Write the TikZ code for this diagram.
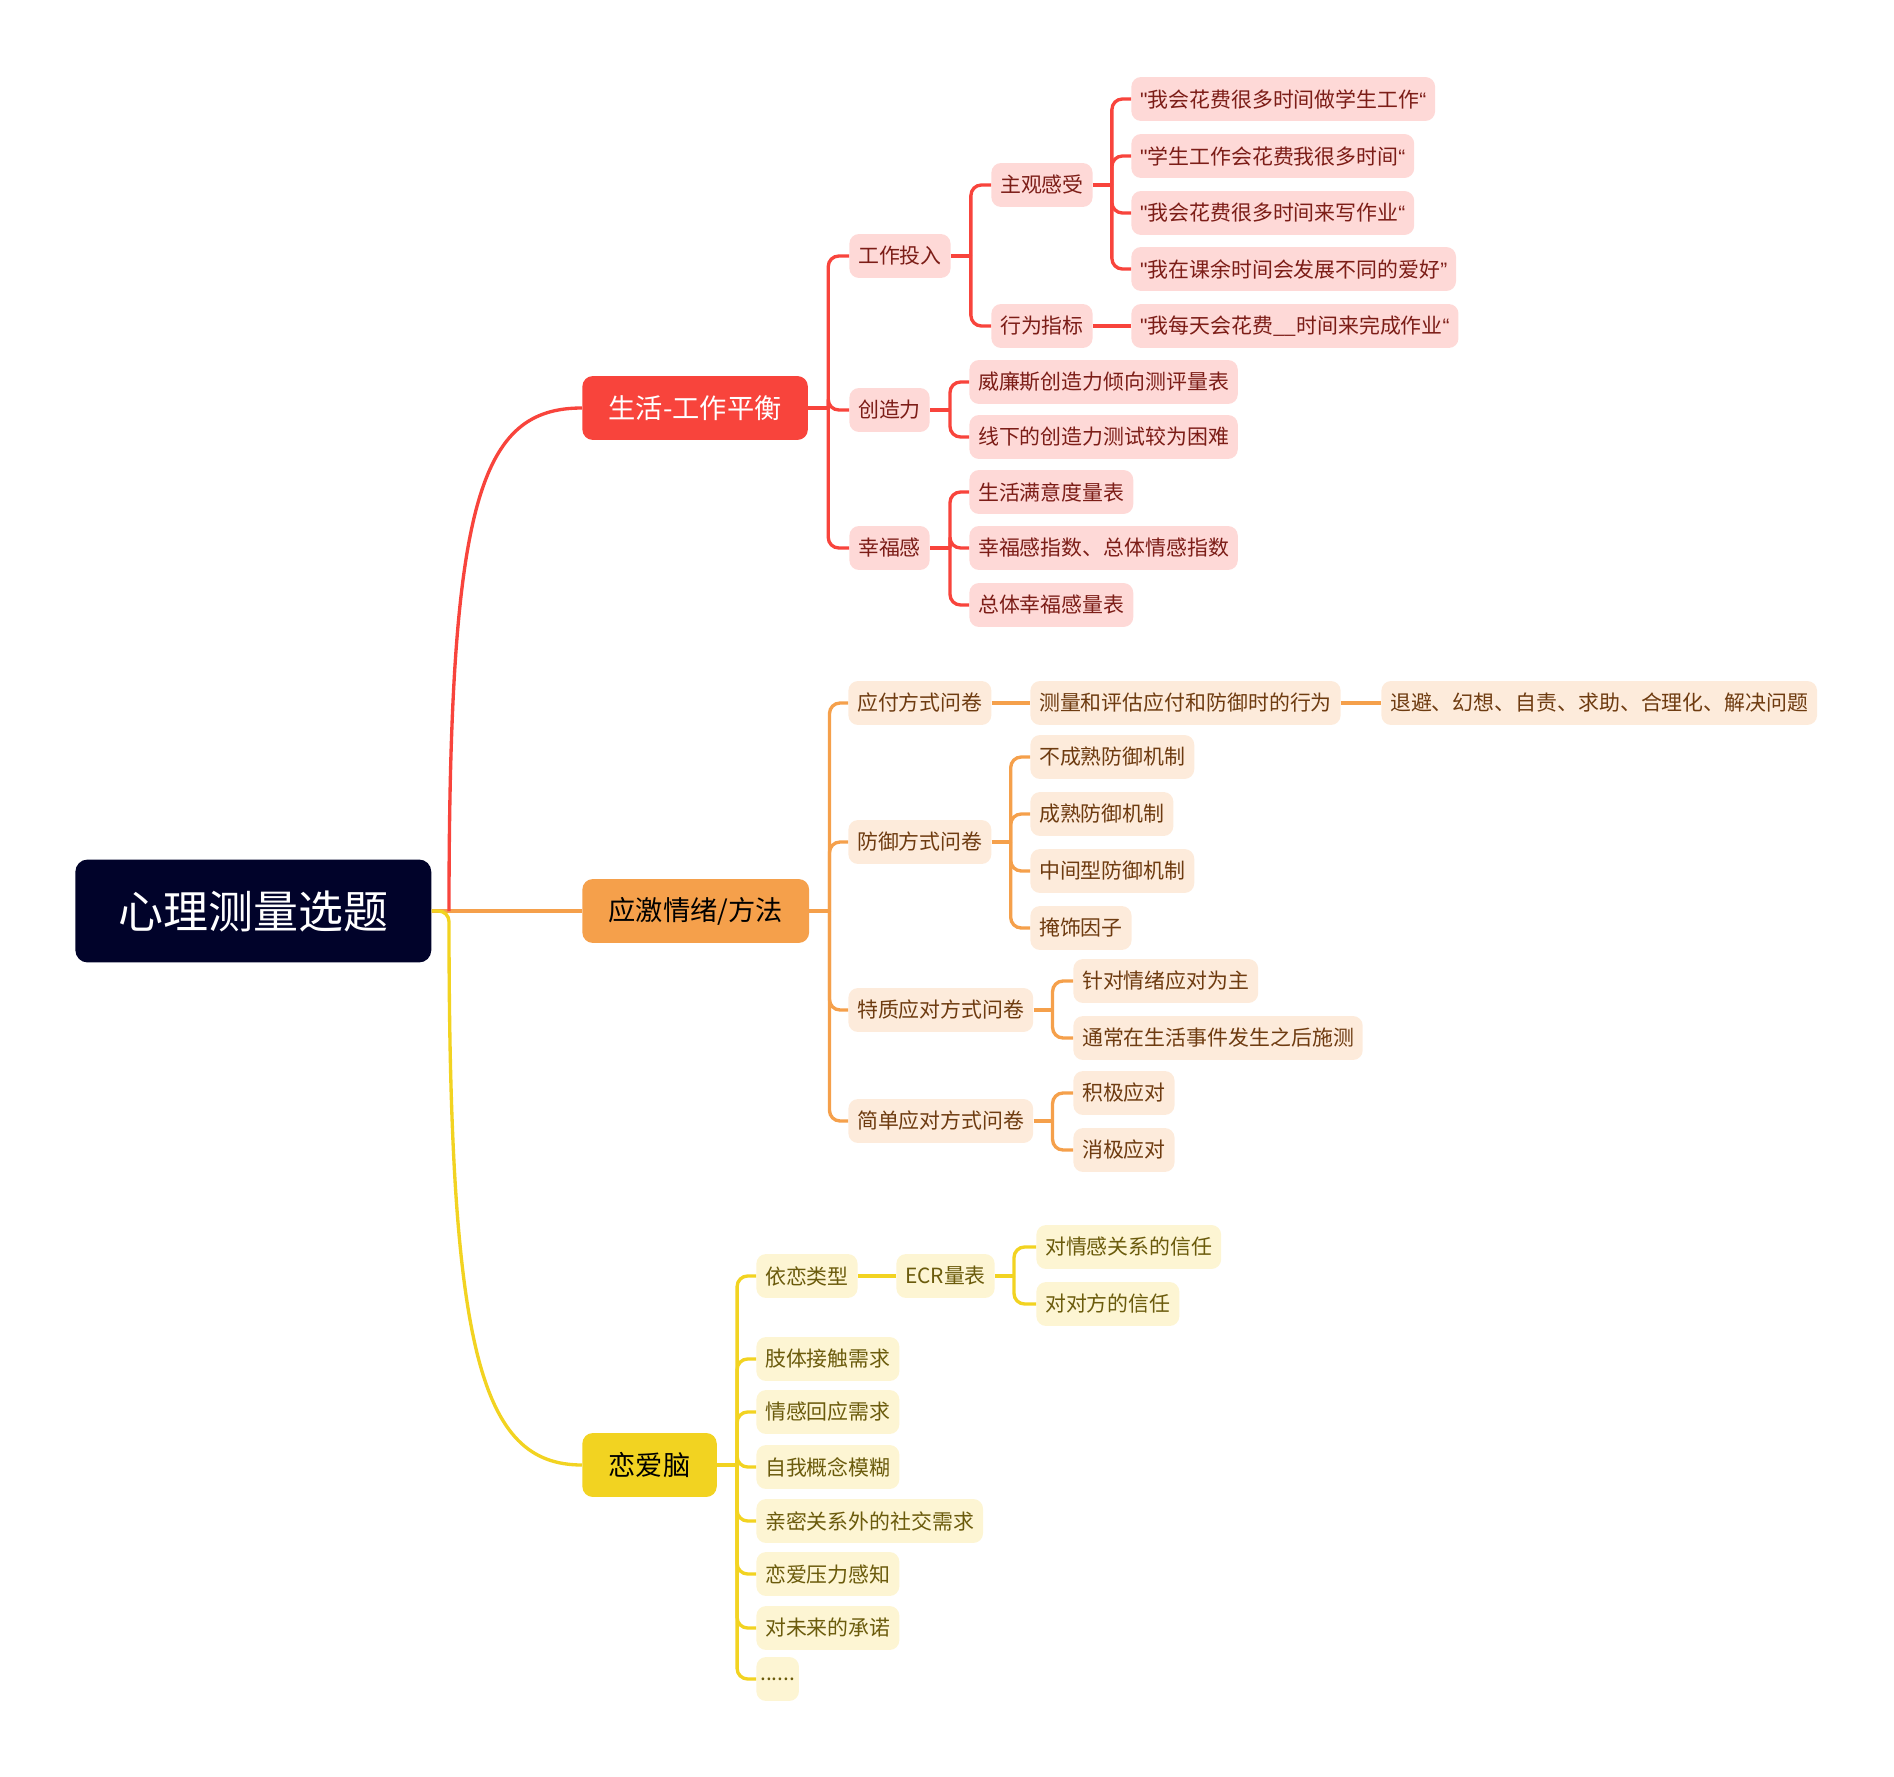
\documentclass[tikz,border=0pt]{standalone}
\usepackage{fontspec}
\setmainfont{Noto Sans CJK SC}
\newfontfamily\qfont{Liberation Sans}
\newcommand{\oq}{{\qfont\symbol{"22}}}
\newcommand{\cq}{{\qfont “}}
\newcommand{\cqr}{{\qfont ”}}

\definecolor{rootfill}{HTML}{01032A}
\definecolor{redline}{HTML}{F8443C}
\definecolor{redleaf}{HTML}{FED9D7}
\definecolor{redtext}{HTML}{7C1D17}
\definecolor{orangeline}{HTML}{F5A04B}
\definecolor{orangeleaf}{HTML}{FDEBDB}
\definecolor{orangetext}{HTML}{6E3B10}
\definecolor{yellowline}{HTML}{F2D321}
\definecolor{yellowleaf}{HTML}{FDF5D3}
\definecolor{yellowtext}{HTML}{6B5B0C}

\tikzset{
    leafbox/.style={anchor=west, rounded corners=5.5pt, minimum height=25pt,
        inner xsep=5pt, inner ysep=0pt, font=\fontsize{11.9}{14}\selectfont},
    leafr/.style={leafbox, fill=redleaf, text=redtext},
    leafo/.style={leafbox, fill=orangeleaf, text=orangetext},
    leafy/.style={leafbox, fill=yellowleaf, text=yellowtext},
    topic/.style={anchor=west, rounded corners=6pt, minimum height=36.4pt,
        inner xsep=15pt, inner ysep=0pt, font=\fontsize{15.5}{18}\selectfont},
    rootbox/.style={anchor=west, rounded corners=7pt, minimum width=202.6pt,
        minimum height=58.6pt, fill=rootfill, text=white,
        font=\fontsize{25.6}{30}\selectfont},
    linkr/.style={draw=redline, line width=1.9pt, rounded corners=6pt},
    linko/.style={draw=orangeline, line width=1.9pt, rounded corners=6pt},
    linky/.style={draw=yellowline, line width=1.9pt, rounded corners=6pt}
}

\begin{document}
\begin{tikzpicture}[x=0.02cm, y=-0.02cm]

    \useasboundingbox (0,0) rectangle (1894,1777);

    % root and main topics
    \node[rootbox] (root) at (75,911) {心理测量选题};
    \node[topic, fill=redline, text=white] (life) at (582,408) {生活-工作平衡};
    \node[topic, fill=orangeline, text=black] (stress) at (582,911) {应激情绪/方法};
    \node[topic, fill=yellowline, text=black] (love) at (582,1465) {恋爱脑};

    \coordinate (rj) at (449,911);
    \draw[linko] (root.east) -- (stress.west);
    \draw[linkr] (rj) .. controls (449,500) and (480,408) .. (life.west);
    \draw[linky] (root.east) -- (rj) .. controls (449,1350) and (480,1465) .. (love.west);

    % life-work balance
    \node[leafr] (work) at (849,256) {工作投入};
    \node[leafr] (creat) at (849,410) {创造力};
    \node[leafr] (happy) at (849,548) {幸福感};

    \node[leafr] (subj) at (991,185) {主观感受};
    \node[leafr] (behav) at (991,326) {行为指标};

    \node[leafr] (s1) at (1131,99) {\oq 我会花费很多时间做学生工作\cq};
    \node[leafr] (s2) at (1131,156) {\oq 学生工作会花费我很多时间\cq};
    \node[leafr] (s3) at (1131,213) {\oq 我会花费很多时间来写作业\cq};
    \node[leafr] (s4) at (1131,269) {\oq 我在课余时间会发展不同的爱好\cqr};
    \node[leafr] (b1) at (1131,326) {\oq 我每天会花费\_\_时间来完成作业\cq};

    \node[leafr] (c1) at (969,382) {威廉斯创造力倾向测评量表};
    \node[leafr] (c2) at (969,437) {线下的创造力测试较为困难};

    \node[leafr] (h1) at (969,492) {生活满意度量表};
    \node[leafr] (h2) at (969,548) {幸福感指数、总体情感指数};
    \node[leafr] (h3) at (969,605) {总体幸福感量表};

    \draw[linkr] (life.east) -- ++(20,0) coordinate (lifej);
    \foreach \c in {work,creat,happy} \draw[linkr] (lifej) |- (\c.west);
    \draw[linkr] (work.east) -- ++(20,0) coordinate (workj);
    \foreach \c in {subj,behav} \draw[linkr] (workj) |- (\c.west);
    \draw[linkr] (subj.east) -- ++(19,0) coordinate (subjj);
    \foreach \c in {s1,s2,s3,s4} \draw[linkr] (subjj) |- (\c.west);
    \draw[linkr] (behav.east) -- (b1.west);
    \draw[linkr] (creat.east) -- ++(20,0) coordinate (creatj);
    \foreach \c in {c1,c2} \draw[linkr] (creatj) |- (\c.west);
    \draw[linkr] (happy.east) -- ++(20,0) coordinate (happyj);
    \foreach \c in {h1,h2,h3} \draw[linkr] (happyj) |- (\c.west);

    % stress and coping
    \node[leafo] (cope) at (848,703) {应付方式问卷};
    \node[leafo] (defn) at (848,842) {防御方式问卷};
    \node[leafo] (trait) at (848,1010) {特质应对方式问卷};
    \node[leafo] (simple) at (848,1121) {简单应对方式问卷};

    \node[leafo] (cope1) at (1030,703) {测量和评估应付和防御时的行为};
    \node[leafo] (cope2) at (1381,703) {退避、幻想、自责、求助、合理化、解决问题};

    \node[leafo] (d1) at (1030,757) {不成熟防御机制};
    \node[leafo] (d2) at (1030,814) {成熟防御机制};
    \node[leafo] (d3) at (1030,871) {中间型防御机制};
    \node[leafo] (d4) at (1030,928) {掩饰因子};

    \node[leafo] (t1) at (1073,981) {针对情绪应对为主};
    \node[leafo] (t2) at (1073,1038) {通常在生活事件发生之后施测};

    \node[leafo] (p1) at (1073,1093) {积极应对};
    \node[leafo] (p2) at (1073,1150) {消极应对};

    \draw[linko] (stress.east) -- ++(20,0) coordinate (stressj);
    \foreach \c in {cope,defn,trait,simple} \draw[linko] (stressj) |- (\c.west);
    \draw[linko] (cope.east) -- (cope1.west);
    \draw[linko] (cope1.east) -- (cope2.west);
    \draw[linko] (defn.east) -- ++(19,0) coordinate (defnj);
    \foreach \c in {d1,d2,d3,d4} \draw[linko] (defnj) |- (\c.west);
    \draw[linko] (trait.east) -- ++(19,0) coordinate (traitj);
    \foreach \c in {t1,t2} \draw[linko] (traitj) |- (\c.west);
    \draw[linko] (simple.east) -- ++(19,0) coordinate (simplej);
    \foreach \c in {p1,p2} \draw[linko] (simplej) |- (\c.west);

    % love brain
    \node[leafy] (attach) at (756,1276) {依恋类型};
    \node[leafy] (ecr) at (896,1276) {ECR量表};
    \node[leafy] (e1) at (1036,1247) {对情感关系的信任};
    \node[leafy] (e2) at (1036,1304) {对对方的信任};

    \node[leafy] (l1) at (756,1359) {肢体接触需求};
    \node[leafy] (l2) at (756,1412) {情感回应需求};
    \node[leafy] (l3) at (756,1467) {自我概念模糊};
    \node[leafy] (l4) at (756,1521) {亲密关系外的社交需求};
    \node[leafy] (l5) at (756,1574) {恋爱压力感知};
    \node[leafy] (l6) at (756,1628) {对未来的承诺};
    \node[leafy, inner xsep=2.2pt] (l7) at (756,1679) {......};

    \draw[linky] (love.east) -- ++(20,0) coordinate (lovej);
    \foreach \c in {attach,l1,l2,l3,l4,l5,l6,l7} \draw[linky] (lovej) |- (\c.west);
    \draw[linky] (attach.east) -- (ecr.west);
    \draw[linky] (ecr.east) -- ++(19,0) coordinate (ecrj);
    \foreach \c in {e1,e2} \draw[linky] (ecrj) |- (\c.west);

\end{tikzpicture}
\end{document}
